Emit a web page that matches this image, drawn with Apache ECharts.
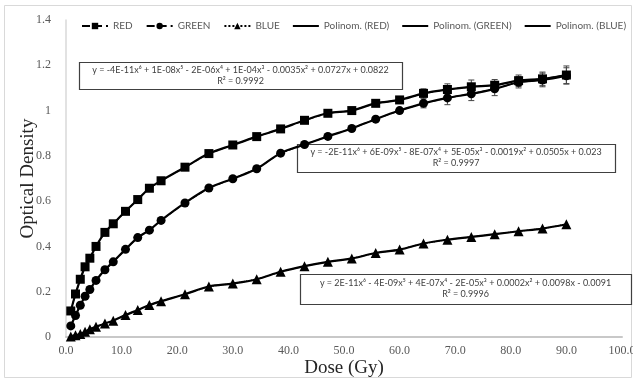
<!DOCTYPE html>
<html><head><meta charset="utf-8">
<script src="https://cdn.jsdelivr.net/npm/echarts@6/dist/echarts.min.js"></script>
<style>html,body{margin:0;padding:0;background:#fff}#c{width:633px;height:380px}</style>
</head><body><div id="c"></div><script>
const dose  = [0.86,1.71,2.57,3.43,4.29,5.4,7.0,8.5,10.7,12.9,15.0,17.1,21.4,25.7,30.0,34.3,38.6,42.9,47.1,51.4,55.7,60.0,64.3,68.6,72.9,77.1,81.4,85.7,90.0];
const red   = [0.115,0.19,0.255,0.31,0.348,0.40,0.462,0.50,0.555,0.607,0.657,0.69,0.75,0.81,0.848,0.885,0.919,0.957,0.988,1.0,1.032,1.047,1.076,1.093,1.105,1.112,1.132,1.14,1.157];
const green = [0.049,0.095,0.14,0.18,0.21,0.25,0.297,0.332,0.387,0.439,0.472,0.515,0.592,0.658,0.699,0.743,0.812,0.85,0.886,0.921,0.962,1.0,1.032,1.056,1.074,1.096,1.125,1.135,1.154];
const blue  = [0.002,0.008,0.013,0.023,0.034,0.045,0.06,0.072,0.097,0.119,0.141,0.158,0.189,0.223,0.236,0.255,0.288,0.313,0.332,0.347,0.371,0.386,0.413,0.43,0.442,0.454,0.467,0.479,0.498];
const redErr   = [0,0,0,0,0,0,0,0,0,0,0,0,0,0,0,0,0,0,0,0,0,0.01,0.02,0.025,0.03,0.025,0.025,0.03,0.04];
const greenErr = [0,0,0,0,0,0,0,0,0,0,0,0,0,0,0,0,0,0,0,0,0,0.01,0.02,0.03,0.03,0.03,0.025,0.03,0.035];
const seriesNames = ['RED','GREEN','BLUE'];
const trendNames = ['Polinom. (RED)','Polinom. (GREEN)','Polinom. (BLUE)'];
const equations = [
  ['y = -4E-11x⁶ + 1E-08x⁵ - 2E-06x⁴ + 1E-04x³ - 0.0035x² + 0.0727x + 0.0822','R² = 0.9992'],
  ['y = -2E-11x⁶ + 6E-09x⁵ - 8E-07x⁴ + 5E-05x³ - 0.0019x² + 0.0505x + 0.023','R² = 0.9997'],
  ['y = 2E-11x⁶ - 4E-09x⁵ + 4E-07x⁴ - 2E-05x³ + 0.0002x² + 0.0098x - 0.0091','R² = 0.9996']
];
const xTitle = 'Dose (Gy)';
const yTitle = 'Optical Density';

const pairs = arr => dose.map((d,i)=>[d, arr[i]]);
const errData = (arr, err) => dose.map((d,i)=>[d, arr[i], err[i]]).filter(p=>p[2]>0);

function errSeries(arr, err){
  return {type:'custom', silent:true, z:2, data: errData(arr, err),
    renderItem:(params, api)=>{
      const x=api.value(0), y=api.value(1), e=api.value(2);
      const t=api.coord([x,y+e]), b=api.coord([x,y-e]);
      const st={stroke:'#444',lineWidth:1};
      return {type:'group',children:[
        {type:'line',shape:{x1:t[0],y1:t[1],x2:b[0],y2:b[1]},style:st},
        {type:'line',shape:{x1:t[0]-3,y1:t[1],x2:t[0]+3,y2:t[1]},style:st},
        {type:'line',shape:{x1:b[0]-3,y1:b[1],x2:b[0]+3,y2:b[1]},style:st}
      ]};
    }};
}
function dataSeries(name, arr, symbol, size, dash){
  return {name, type:'line', data:pairs(arr), symbol, symbolSize:size, showSymbol:true,
    itemStyle:{color:'#000'}, lineStyle:{color:'#000', width:1.2, type:dash}, z:4, animation:false};
}
function trendSeries(name, arr){
  return {name, type:'line', data:pairs(arr), symbol:'none', smooth:0.35,
    itemStyle:{color:'#000'}, lineStyle:{color:'#000', width:2.2}, z:3, animation:false};
}
function box(x,y,w,h,lines){
  return {type:'group', z:10, children:[
    {type:'rect', shape:{x:x+0.5,y:y+0.5,width:w,height:h}, style:{fill:'#fff', stroke:'#404040', lineWidth:1.2}},
    {type:'text', style:{x:x+w/2, y:y+h/2, text:lines.join('\n'), align:'center', verticalAlign:'middle',
      font:'9px Lato', lineHeight:11, fill:'#404040'}}
  ]};
}
const lineIcon = 'path://M0,2.9h30v2.2h-30z M0,0h0.01v0.01h-0.01z M0,8h0.01v0.01h-0.01z';

const chart = echarts.init(document.getElementById('c'), null, {renderer:'canvas'});
chart.setOption({
  animation:false,
  backgroundColor:'#fff',
  grid:{left:66, right:11, top:20, bottom:43, containLabel:false, outerBoundsMode:'none'},
  legend:{top:16, left:76, itemWidth:26, itemHeight:8, itemGap:13,
    textStyle:{color:'#595959', fontFamily:'Lato', fontSize:10},
    data:[...seriesNames, ...trendNames.map(n=>({name:n, icon:lineIcon, itemStyle:{color:'#000'}}))]},
  xAxis:{type:'value', min:0, max:100, interval:10,
    name:xTitle, nameLocation:'middle', nameGap:22, nameMoveOverlap:false,
    nameTextStyle:{fontFamily:'Liberation Serif', fontSize:19, color:'#262626'},
    axisLine:{show:true, lineStyle:{color:'#c8c8c8', width:2}},
    axisTick:{show:false}, splitLine:{show:false},
    axisLabel:{formatter:v=>v.toFixed(1), fontFamily:'Liberation Serif', fontSize:12, color:'#595959', margin:8}},
  yAxis:{type:'value', min:0, max:1.4, interval:0.2,
    name:yTitle, nameLocation:'middle', nameGap:28, nameMoveOverlap:false,
    nameTextStyle:{fontFamily:'Liberation Serif', fontSize:19, color:'#262626'},
    axisLine:{show:true, lineStyle:{color:'#d9d9d9', width:1.5}},
    axisTick:{show:false}, splitLine:{show:false},
    axisLabel:{formatter:v=>String(+v.toFixed(1)), fontFamily:'Liberation Serif', fontSize:12, color:'#595959', margin:15}},
  series:[
    errSeries(red, redErr), errSeries(green, greenErr),
    dataSeries(seriesNames[0], red, 'rect', 9, 'dashed'),
    dataSeries(seriesNames[1], green, 'circle', 9, 'dashed'),
    dataSeries(seriesNames[2], blue, 'triangle', 10, 'dotted'),
    trendSeries(trendNames[0], red), trendSeries(trendNames[1], green), trendSeries(trendNames[2], blue)
  ],
  graphic:[
    {type:'rect', z:-10, silent:true, shape:{x:4.5,y:5.5,width:627,height:372}, style:{fill:'none', stroke:'#d9d9d9', lineWidth:1}},
    box(79,62,323,27,equations[0]),
    box(297,144,318,28,equations[1]),
    box(300,274,331,30,equations[2])
  ]
});
</script></body></html>
